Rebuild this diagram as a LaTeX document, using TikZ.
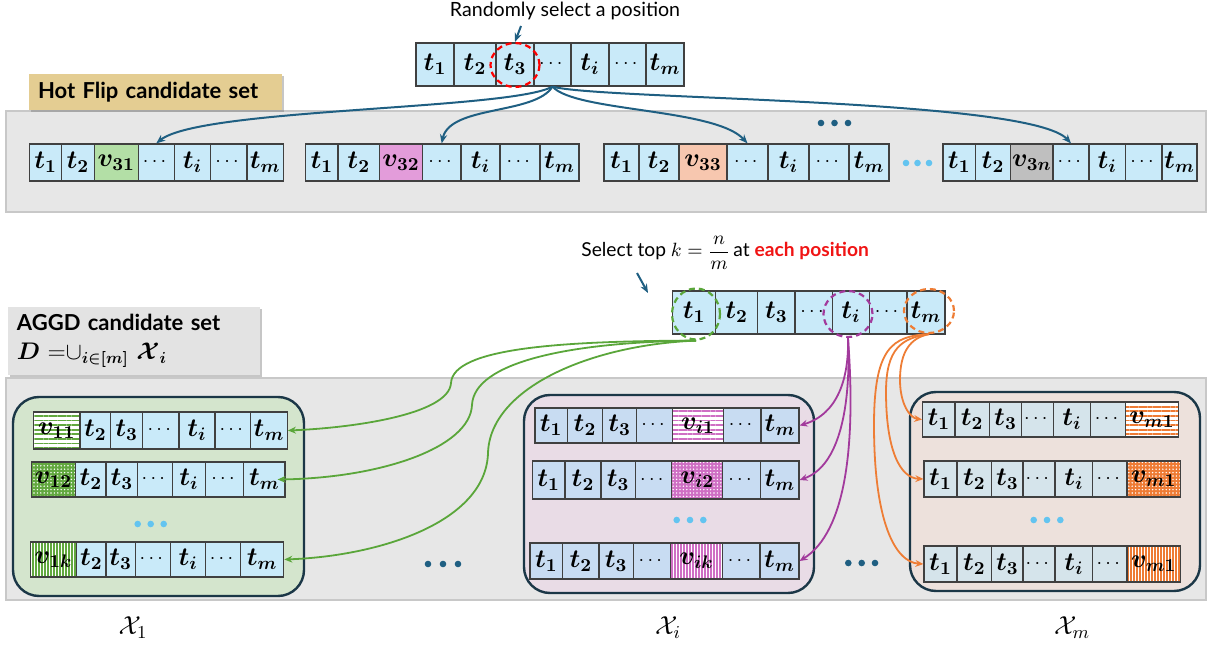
\RequirePackage{fix-cm}
\documentclass[tikz,border=0pt]{standalone}
\usepackage{amsmath}
\usepackage{bm}
\usepackage{fontspec}
\usetikzlibrary{arrows.meta,shapes.geometric,patterns.meta,shadows}
\newfontfamily\lato{Lato}
\definecolor{cellcy}{HTML}{C9EAF9}
\definecolor{cellpu}{HTML}{C8DCF2}
\definecolor{cellor}{HTML}{D5E4EB}
\definecolor{cellline}{HTML}{404040}
\definecolor{bandfill}{HTML}{E7E7E7}
\definecolor{bandline}{HTML}{C8C8C8}
\definecolor{tealblue}{HTML}{1F5F82}
\definecolor{lightdot}{HTML}{63C4F0}
\definecolor{boxline}{HTML}{1B3747}
\definecolor{gboxfill}{HTML}{D4E5CD}
\definecolor{pboxfill}{HTML}{E9DCE6}
\definecolor{oboxfill}{HTML}{EDE1DC}
\definecolor{vgreen}{HTML}{B3DFA6}
\definecolor{vpink}{HTML}{E39CDA}
\definecolor{vpeach}{HTML}{F7C7AF}
\definecolor{vgray}{HTML}{BFBFBF}
\definecolor{pgreen}{HTML}{62A83F}
\definecolor{ppurple}{HTML}{CF6FC4}
\definecolor{porange}{HTML}{EE7B34}
\definecolor{agreen}{HTML}{5AA63A}
\definecolor{apurple}{HTML}{A23A9C}
\definecolor{aorange}{HTML}{EE7D35}
\definecolor{tanfill}{HTML}{E4CD92}
\definecolor{marble}{HTML}{E3E3E3}
\definecolor{redtext}{HTML}{F01414}
\newcommand\Tk[1]{$\bm{t}_{\bm{#1}}$}
\newcommand\Vk[1]{$\bm{v}_{\bm{#1}}$}
\newcommand\Dts{{\fontsize{10}{10}\selectfont$\cdots$}}
\newcommand\cellrow[4]{%
  \foreach \xa/\xb/\lab/\sty [count=\ci] in {#4}{%
    \node[cell,\sty,minimum width={(\xb-\xa)*0.5pt},minimum height={(#3-#2)*0.5pt}] (#1-\ci) at ({(\xa+\xb)/2},{(#2+#3)/2}) {\lab};
  }%
}
\begin{document}
\begin{tikzpicture}[x=0.5pt,y=-0.5pt,
  cell/.style={draw=cellline,line width=0.6pt,inner sep=0pt,font=\fontsize{13}{15}\selectfont},
  cb/.style={fill=cellcy}, cp/.style={fill=cellpu}, co/.style={fill=cellor},
  fg/.style={fill=vgreen}, fpk/.style={fill=vpink}, fpe/.style={fill=vpeach}, fgy/.style={fill=vgray},
  gh/.style={preaction={fill=white},pattern={Lines[angle=0,distance=2.3pt,line width=0.9pt]},pattern color=pgreen},
  gd/.style={preaction={fill=pgreen},pattern={Dots[radius=0.4pt,distance=1.7pt]},pattern color=white},
  gv/.style={preaction={fill=white},pattern={Lines[angle=90,distance=1.5pt,line width=0.9pt]},pattern color=pgreen},
  ph/.style={preaction={fill=white},pattern={Lines[angle=0,distance=2.3pt,line width=0.9pt]},pattern color=ppurple},
  pd/.style={preaction={fill=ppurple},pattern={Dots[radius=0.4pt,distance=1.7pt]},pattern color=white},
  pv/.style={preaction={fill=white},pattern={Lines[angle=90,distance=1.5pt,line width=0.6pt]},pattern color=ppurple},
  oh/.style={preaction={fill=white},pattern={Lines[angle=0,distance=2.3pt,line width=0.9pt]},pattern color=porange},
  od/.style={preaction={fill=porange},pattern={Dots[radius=0.4pt,distance=1.7pt]},pattern color=white},
  ov/.style={preaction={fill=white},pattern={Lines[angle=90,distance=1.5pt,line width=0.8pt]},pattern color=porange},
  bigbox/.style={draw=boxline,line width=1.2pt,rounded corners=13pt,inner sep=0pt},
  dcirc/.style={ellipse,dash pattern=on 3pt off 2pt,line width=1.1pt,inner sep=0pt},
  barr/.style={draw=tealblue,line width=1pt,-{Stealth[length=4.5pt,width=3.6pt]}},
  garr/.style={draw=agreen,line width=0.9pt,-{Stealth[length=4pt,width=3.4pt]}},
  parr/.style={draw=apurple,line width=0.9pt,-{Stealth[length=4pt,width=3.4pt]}},
  oarr/.style={draw=aorange,line width=0.9pt,-{Stealth[length=4pt,width=3.4pt]}},
  lbl/.style={font=\lato\bfseries\fontsize{11}{13.5}\selectfont,align=left,inner xsep=4.5pt},
  ]
\useasboundingbox (0,0) rectangle (1209,646);
% bands
\fill[bandfill,draw=bandline,line width=0.6pt] (6,111) rectangle (1206,212);
\fill[bandfill,draw=bandline,line width=0.6pt] (6,378) rectangle (1206,600);
% labels
\node[lbl,fill=tanfill,minimum width=126.5pt,minimum height=18pt,text width=117.5pt,
  drop shadow={shadow xshift=1.2pt,shadow yshift=-1.2pt,opacity=0.45}] (hf) at (155.5,92) {Hot Flip candidate set};
\node[lbl,fill=marble,minimum width=126pt,minimum height=34pt,text width=117pt,
  drop shadow={shadow xshift=1.2pt,shadow yshift=-1.2pt,opacity=0.45}] (ag) at (134,341)
  {AGGD candidate set\\[1pt]{\fontsize{12}{14}\selectfont$\bm{D}$ ${=}{\cup}_{\bm{i\in[m]}}$ $\bm{\mathcal{X}}_{\bm{i}}$}};
% texts
\node[font=\lato\fontsize{9.8}{11}\selectfont] (rtxt) at (565,11) {Randomly select a position};
\node[font=\lato\fontsize{9.6}{11}\selectfont,anchor=west,inner sep=0pt] (stxt) at (581,253)
  {Select top $k=\dfrac{n}{m}$\,at \textcolor{redtext}{\bfseries each position}};
% top sequence
\cellrow{top}{43}{86}{416/454/\Tk1/cb, 454/496/\Tk2/cb, 496/534/\Tk3/cb, 534/571/\Dts/cb, 571/609/\Tk i/cb, 609/646/\Dts/cb, 646/684/\Tk m/cb}
\node[dcirc,draw=red,minimum width=24.5pt,minimum height=22pt] (c3) at (515,65) {};
% hot flip rows
\cellrow{h1}{144}{181}{29.5/61.6/\Tk1/cb, 61.6/94.2/\Tk2/cb, 94.2/138.4/\Vk{31}/fg, 138.4/174.1/\Dts/cb, 174.1/210.7/\Tk i/cb, 210.7/246.9/\Dts/cb, 246.9/283.5/\Tk m/cb}
\cellrow{h2}{144}{181}{305.8/338/\Tk1/cb, 338/379.5/\Tk2/cb, 379.5/422.3/\Vk{32}/fpk, 422.3/461/\Dts/cb, 461/500/\Tk i/cb, 500/540/\Dts/cb, 540/579/\Tk m/cb}
\cellrow{h3}{144}{181}{604/639/\Tk1/cb, 639/679/\Tk2/cb, 679/727/\Vk{33}/fpe, 727/768/\Dts/cb, 768/809/\Tk i/cb, 809/849/\Dts/cb, 849/889/\Tk m/cb}
\cellrow{h4}{144}{181}{943/975.5/\Tk1/cb, 975.5/1010.5/\Tk2/cb, 1010.5/1053/\Vk{3n}/fgy, 1053/1089/\Dts/cb, 1089/1125.4/\Tk i/cb, 1125.4/1162/\Dts/cb, 1162/1197/\Tk m/cb}
\foreach \x in {821,834.5,848} \fill[tealblue] (\x,123) circle[radius=1.65pt];
\foreach \x in {906,917.5,929} \fill[lightdot] (\x,163) circle[radius=1.65pt];
% blue arrows
\draw[barr] (top-4.south) .. controls (510,110) and (200,108) .. (h1-4.north);
\draw[barr] (top-4.south) .. controls (535,115) and (450,105) .. (h2-4.north);
\draw[barr] (top-4.south) .. controls (575,112) and (715,108) .. (h3-4.north);
\draw[barr] (top-4.south) .. controls (600,100) and (1030,98) .. (h4-4.north);
\coordinate (a1s) at (521,26);
\draw[barr] (a1s) -- (c3.north);
% second sequence
\cellrow{sq}{291}{334}{672.6/715.6/\Tk1/cb, 715.6/757.8/\Tk2/cb, 757.8/795/\Tk3/cb, 795/832.4/\Dts/cb, 832.4/869.6/\Tk i/cb, 869.6/906.9/\Dts/cb, 906.9/945/\Tk m/cb}
\node[dcirc,draw=agreen,minimum width=24pt,minimum height=25.5pt] (gc) at (696,314) {};
\node[dcirc,draw=apurple,minimum width=24.5pt,minimum height=23pt] (pc) at (848,314) {};
\node[dcirc,draw=aorange,minimum width=25pt,minimum height=22pt] (oc) at (929,311) {};
\coordinate (a2s) at (637,273);
\coordinate (a2e) at (648,293);
\draw[barr] (a2s) -- (a2e);
% big boxes
\node[bigbox,fill=gboxfill,minimum width=145.5pt,minimum height=99.5pt] (gbox) at (158.5,496.5) {};
\node[bigbox,fill=pboxfill,minimum width=145pt,minimum height=99pt] (pbox) at (669,494) {};
\node[bigbox,fill=oboxfill,minimum width=145pt,minimum height=99.5pt] (obox) at (1055,491.5) {};
% green rows
\cellrow{g1}{412}{449}{33.3/80/\Vk{11}/gh, 80/110.7/\Tk2/cb, 110.7/142.7/\Tk3/cb, 142.7/179/\Dts/cb, 179/215/\Tk i/cb, 215/250.7/\Dts/cb, 250.7/287.3/\Tk m/cb}
\cellrow{g2}{462}{497}{31.3/75.7/\Vk{12}/gd, 75.7/106/\Tk2/cb, 106/137.7/\Tk3/cb, 137.7/172.3/\Dts/cb, 172.3/205.7/\Tk i/cb, 205.7/243.7/\Dts/cb, 243.7/285/\Tk m/cb}
\cellrow{g3}{542}{577}{30.3/76.7/\Vk{1k}/gv, 76.7/106/\Tk2/cb, 106/135.3/\Tk3/cb, 135.3/170.7/\Dts/cb, 170.7/205.7/\Tk i/cb, 205.7/240.7/\Dts/cb, 240.7/283.7/\Tk m/cb}
% purple rows
\cellrow{p1}{408}{443}{535/567.3/\Tk1/cp, 567.3/602.7/\Tk2/cp, 602.7/636.7/\Tk3/cp, 636.7/672.7/\Dts/cp, 672.7/723.3/\Vk{i1}/ph, 723.3/761/\Dts/cp, 761/799/\Tk m/cp}
\cellrow{p2}{461}{499}{532.3/565/\Tk1/cp, 565/601/\Tk2/cp, 601/635.3/\Tk3/cp, 635.3/671.7/\Dts/cp, 671.7/722.7/\Vk{i2}/pd, 722.7/760.7/\Dts/cp, 760.7/799/\Tk m/cp}
\cellrow{p3}{543}{579}{530/562.7/\Tk1/cp, 562.7/599/\Tk2/cp, 599/633.3/\Tk3/cp, 633.3/670.7/\Dts/cp, 670.7/722.3/\Vk{ik}/pv, 722.3/760/\Dts/cp, 760/799/\Tk m/cp}
% orange rows
\cellrow{o1}{402}{437}{922.7/955/\Tk1/co, 955/989.3/\Tk2/co, 989.3/1021.7/\Tk3/co, 1021.7/1053.3/\Dts/co, 1053.3/1090.7/\Tk i/co, 1090.7/1125.7/\Dts/co, 1125.7/1178.3/\Vk{m1}/oh}
\cellrow{o2}{461}{497}{924/957/\Tk1/co, 957/991.7/\Tk2/co, 991.7/1023/\Tk3/co, 1023/1055/\Dts/co, 1055/1092.7/\Tk i/co, 1092.7/1127/\Dts/co, 1127/1180.7/\Vk{m1}/od}
\cellrow{o3}{546}{582}{924/957/\Tk1/co, 957/991.7/\Tk2/co, 991.7/1023/\Tk3/co, 1023/1055/\Dts/co, 1055/1092.7/\Tk i/co, 1092.7/1127/\Dts/co, 1127/1180.7/\Vk{m1}/ov}
% dots
\foreach \x in {137.7,150.7,163.7} \fill[lightdot] (\x,524) circle[radius=1.65pt];
\foreach \x in {676.7,690,703.3} \fill[lightdot] (\x,520) circle[radius=1.65pt];
\foreach \x in {1033.7,1047,1060.3} \fill[lightdot] (\x,520) circle[radius=1.65pt];
\foreach \x in {428,443,458} \fill[tealblue] (\x,564) circle[radius=1.65pt];
\foreach \x in {848.3,861.7,875} \fill[tealblue] (\x,563) circle[radius=1.65pt];
% green arrows
\draw[garr] (gc.south) .. controls (560,341) and (453,348) .. (451,383) .. controls (449,415) and (350,428) .. (g1-7.east);
\draw[garr] (gc.south) .. controls (570,342) and (474,362) .. (472,405) .. controls (470,448) and (380,478) .. ([xshift=-4pt]g2-7.east);
\draw[garr] (gc.south) .. controls (590,345) and (490,388) .. (488,453) .. controls (486,522) and (380,556) .. (g3-7.east);
% purple arrows
\draw[parr] (pc.south) .. controls (849,378) and (838,414) .. (p1-7.east);
\draw[parr] (pc.south) .. controls (851,405) and (840,466) .. (p2-7.east);
\draw[parr] (pc.south) .. controls (856,445) and (846,532) .. (p3-7.east);
% orange arrows
\draw[oarr] (oc.south) .. controls (910,338) and (900,352) .. (900,380) .. controls (900,404) and (910,418) .. (o1-1.west);
\draw[oarr] (oc.south) .. controls (902,338) and (886,348) .. (886,392) .. controls (886,450) and (900,478) .. (o2-1.west);
\draw[oarr] (oc.south) .. controls (892,336) and (874,348) .. (874,425) .. controls (874,522) and (895,562) .. (o3-1.west);
% set labels
\node[font=\fontsize{13}{15}\selectfont] (x1) at (133,628) {$\mathcal{X}_1$};
\node[font=\fontsize{13}{15}\selectfont] (xi) at (668,628) {$\mathcal{X}_i$};
\node[font=\fontsize{13}{15}\selectfont] (xm) at (1072,628) {$\mathcal{X}_m$};
\end{tikzpicture}
\end{document}
